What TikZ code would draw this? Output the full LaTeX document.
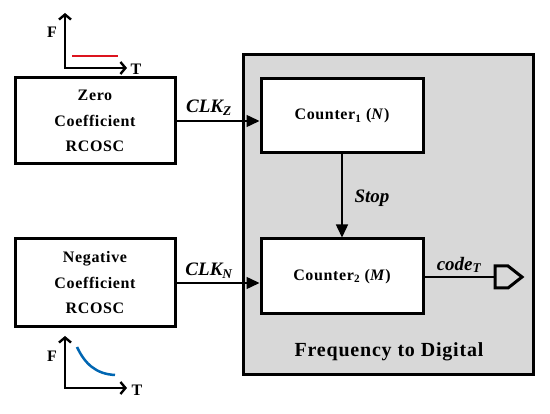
\documentclass[tikz,border=0pt]{standalone}
\usepackage{fontspec}
\setmainfont{Liberation Serif}
\newfontfamily\spacedfont[LetterSpace=4]{Liberation Serif}
\usetikzlibrary{arrows.meta}
\definecolor{bggray}{RGB}{216,216,216}
\definecolor{curveblue}{RGB}{0,102,178}
\definecolor{linered}{RGB}{220,20,30}
\begin{document}
\begin{tikzpicture}[x=1pt,y=-1pt,
  blk/.style={draw,line width=3pt,fill=white,align=center,inner sep=0pt,font=\spacedfont\fontsize{16}{25.5}\selectfont\bfseries},
  conn/.style={line width=1.5pt,-{Triangle[length=13pt,width=12pt]}},
  axis/.style={line width=2.4pt,{Straight Barb[length=5pt,width=12pt]}-{Straight Barb[length=5pt,width=12pt]}},
  lbl/.style={font=\fontsize{19}{22}\selectfont\bfseries\itshape,inner sep=0pt},
  axl/.style={font=\fontsize{16}{18}\selectfont\bfseries,inner sep=0pt}]
\useasboundingbox (0,0) rectangle (550,414);
% gray frame
\node[draw,line width=3pt,fill=bggray,minimum width=290pt,minimum height=320pt,inner sep=0pt] (fd) at (388,215) {};
\node[font=\spacedfont\fontsize{20}{22}\selectfont\bfseries] (fdl) at (389,352) {Frequency to Digital};
% oscillators
\node[blk,minimum width=160pt,minimum height=86pt] (zero) at (95,121) {Zero\\Coefficient\\RCOSC};
\node[blk,minimum width=160pt,minimum height=88pt] (neg) at (95,283) {Negative\\Coefficient\\RCOSC};
% counters
\node[blk,minimum width=162pt,minimum height=74pt] (c1) at (342,116) {Counter\textsubscript{1} (\textit{N})};
\node[blk,minimum width=162pt,minimum height=75pt] (c2) at (342,276.5) {Counter\textsubscript{2} (\textit{M})};
% connectors
\draw[conn] (zero.east) -- (zero.east -| c1.west);
\draw[conn] (neg.east) -- (neg.east -| c2.west);
\draw[conn] (c1.south) -- (c2.north);
\node[lbl] (clkz) at (209,108) {CLK\textsubscript{\textit{Z}}};
\node[lbl] (clkn) at (209,271) {CLK\textsubscript{\textit{N}}};
\node[lbl] (stop) at (372,198) {Stop};
\node[lbl] (code) at (459,265) {code\textsubscript{\textit{T}}};
% output port
\coordinate (port) at (495,277);
\draw[line width=1.5pt] (c2.east |- port) -- (port);
\draw[line width=3pt,line join=miter] (495,266) -- (508,266) -- (522,277) -- (508,288) -- (495,288) -- cycle;
% top graph
\draw[axis] (65,13) -- (65,68) -- (127,68);
\node[axl] (f1) at (52,32) {F};
\node[axl] (t1) at (136,69) {T};
\draw[linered,line width=2.5pt] (72,56) -- (118,56);
% bottom graph
\draw[axis] (65,336) -- (65,388) -- (127,388);
\node[axl] (f2) at (52,356) {F};
\node[axl] (t2) at (137,390) {T};
\draw[curveblue,line width=2.5pt] (77,347) .. controls (85,364) and (96,374) .. (115,375);
\end{tikzpicture}
\end{document}
